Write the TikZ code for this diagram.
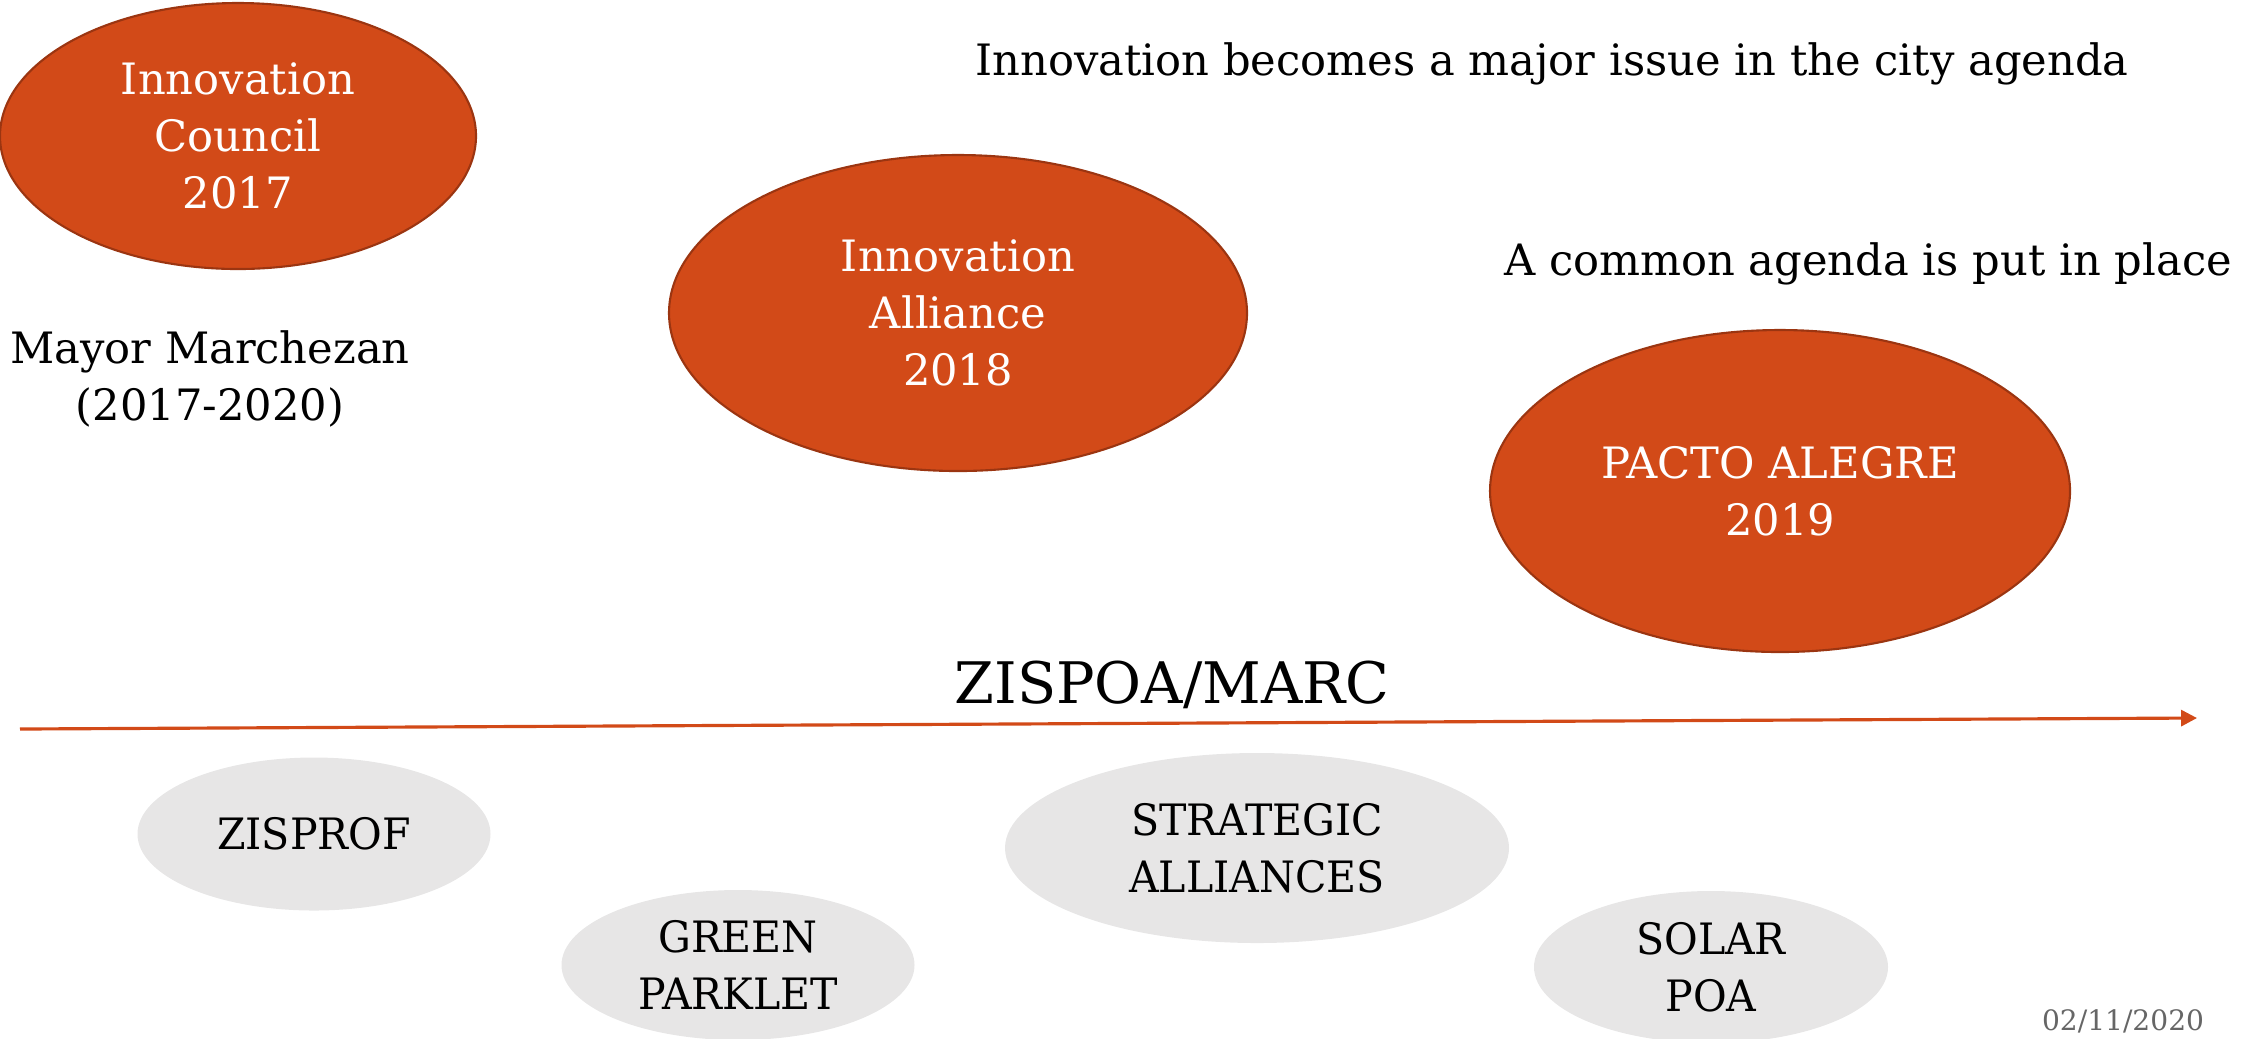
\documentclass[tikz,border=0pt]{standalone}
\usepackage{fontspec}
\setmainfont{DejaVu Serif}
\newfontfamily\projfont[FakeStretch=0.95]{DejaVu Serif}
\usetikzlibrary{shapes.geometric,arrows.meta}

\definecolor{rust}{HTML}{D24A18}
\definecolor{rustdark}{HTML}{9B3511}
\definecolor{paleGrey}{HTML}{E7E6E6}
\definecolor{dateGrey}{HTML}{666666}

\begin{document}
\begin{tikzpicture}[
        event/.style={ellipse, fill=rust, draw=rustdark, line width=0.6pt, text=white,
            align=center, inner sep=0pt, font=\fontsize{12.3}{16.2}\selectfont},
        project/.style={ellipse, fill=paleGrey, align=center, inner sep=0pt,
            font=\projfont\fontsize{12.3}{16.2}\selectfont},
        note/.style={anchor=base, font=\fontsize{12.3}{16.2}\selectfont}
    ]
        % Fix the canvas
        \useasboundingbox (0,0) rectangle (22.41,-10.38);

        % Draw the milestones
        \node[event, minimum width=4.76cm, minimum height=2.66cm] (council) at (2.38,-1.36) {Innovation\\Council\\2017};
        \node[event, minimum width=5.78cm, minimum height=3.16cm] (alliance) at (9.58,-3.13) {Innovation\\Alliance\\2018};
        \node[event, minimum width=5.80cm, minimum height=3.22cm] (pacto) at (17.80,-4.91) {PACTO ALEGRE\\2019};

        % Labels
        \node[note] (agenda) at (15.52,-0.75) {Innovation becomes a major issue in the city agenda};
        \node[note] (common) at (18.68,-2.75) {A common agenda is put in place};
        \node[note, align=center, anchor=center] (mayor) at (2.10,-3.79) {Mayor Marchezan\\(2017-2020)};
        \node[anchor=base, font=\fontsize{16.3}{20}\selectfont] (zispoa) at (11.72,-7.03) {ZISPOA/MARC};

        % Draw the time line
        \coordinate (tstart) at (0.20,-7.29);
        \coordinate (tend) at (21.97,-7.18);
        \draw[rust, line width=0.9pt, -{Triangle[length=0.16cm, width=0.16cm]}] (tstart) -- (tend);

        % Draw the projects
        \node[project, minimum width=3.53cm, minimum height=1.53cm] (zisprof) at (3.14,-8.34) {ZISPROF};
        \node[project, minimum width=3.53cm, minimum height=1.50cm] (parklet) at (7.38,-9.65) {GREEN\\PARKLET};
        \node[project, minimum width=5.04cm, minimum height=1.90cm] (strategic) at (12.57,-8.48) {STRATEGIC\\ALLIANCES};
        \node[project, minimum width=3.54cm, minimum height=1.52cm] (solar) at (17.11,-9.67) {SOLAR\\POA};

        % Date
        \node[anchor=base, text=dateGrey, font=\fontsize{8}{10}\selectfont] (date) at (21.23,-10.30) {02/11/2020};
    \end{tikzpicture}
\end{document}
